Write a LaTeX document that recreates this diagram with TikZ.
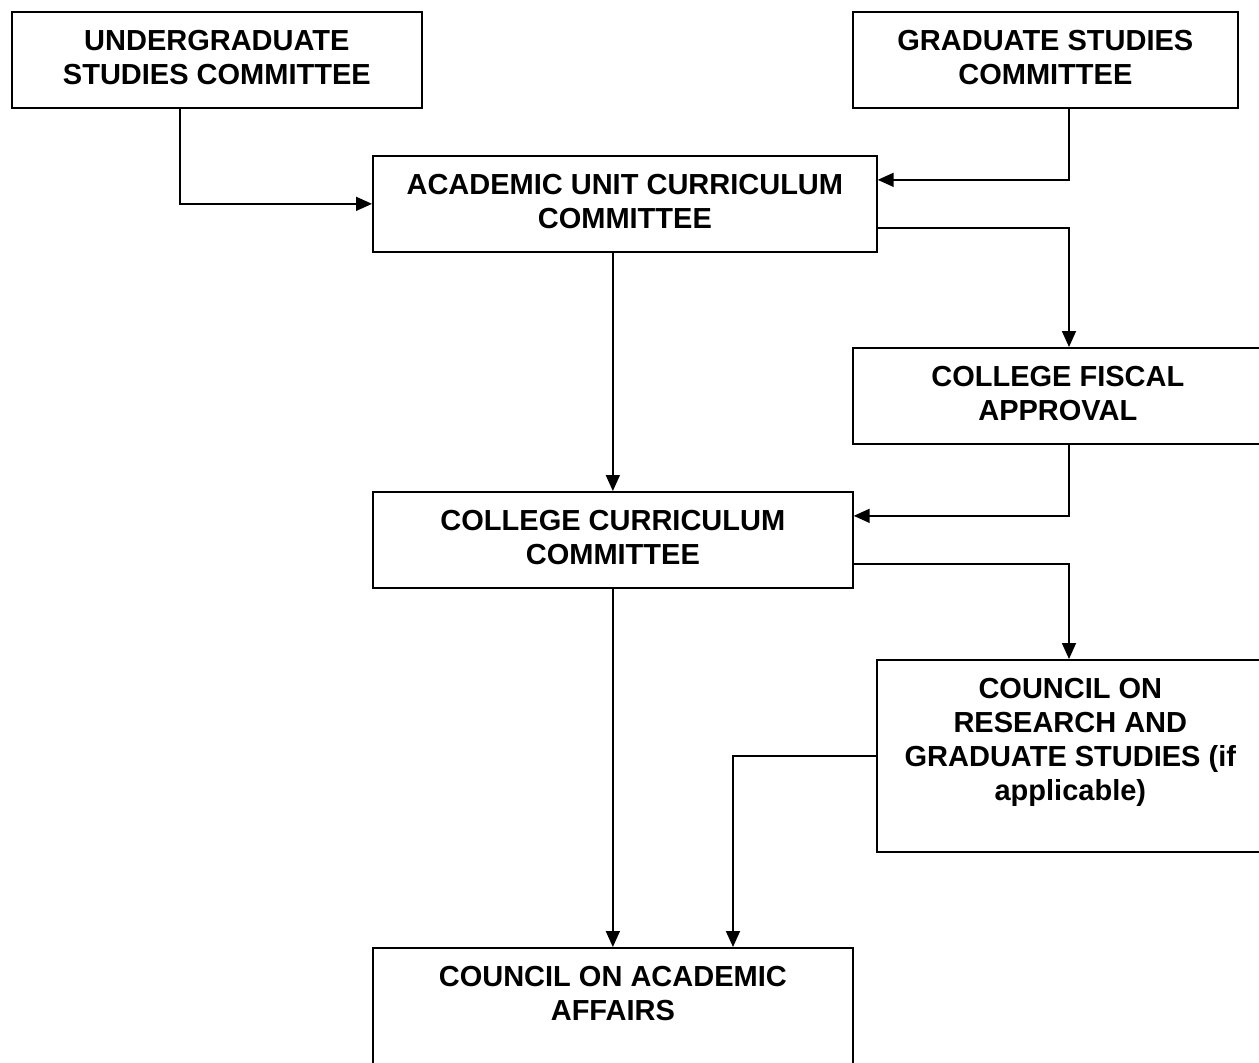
\documentclass[tikz,border=0pt]{standalone}
\usepackage{fontspec}
\setmainfont{Liberation Sans}
\usetikzlibrary{arrows.meta,calc}
\begin{document}
\begin{tikzpicture}[x=1pt,y=-1pt,
  box/.style={draw,line width=1.7pt,rectangle,anchor=north west,inner sep=0pt},
  txt/.style={anchor=north,inner sep=0pt,align=center,font=\fontsize{29}{34}\selectfont\bfseries},
  arr/.style={line width=1.7pt,-{Triangle[length=16pt,width=14pt]}}]
\useasboundingbox (0,0) rectangle (1259,1063);
% boxes
\node[box,minimum width=410pt,minimum height=96pt] (ug) at (11,11) {};
\node[box,minimum width=385pt,minimum height=96pt] (gs) at (852,11) {};
\node[box,minimum width=504pt,minimum height=96pt] (aucc) at (372,155) {};
\node[box,minimum width=410pt,minimum height=96pt] (cfa) at (852,347) {};
\node[box,minimum width=480pt,minimum height=96pt] (ccc) at (372,491) {};
\node[box,minimum width=387pt,minimum height=192pt] (crgs) at (876,659) {};
\node[box,minimum width=480pt,minimum height=140pt] (caa) at (372,947) {};
% texts
\node[txt] (ug-t) at ([yshift=-19.5pt]ug.north) {UNDERGRADUATE\\STUDIES COMMITTEE};
\node[txt] (gs-t) at ([yshift=-19.5pt]gs.north) {GRADUATE STUDIES\\COMMITTEE};
\node[txt] (aucc-t) at ([yshift=-19.5pt]aucc.north) {ACADEMIC UNIT CURRICULUM\\COMMITTEE};
\node[txt] (cfa-t) at ([yshift=-19.5pt]cfa.north) {COLLEGE FISCAL\\APPROVAL};
\node[txt] (ccc-t) at ([yshift=-19.5pt]ccc.north) {COLLEGE CURRICULUM\\COMMITTEE};
\node[txt] (crgs-t) at ([yshift=-19.5pt]crgs.north) {COUNCIL ON\\RESEARCH AND\\GRADUATE STUDIES (if\\applicable)};
\node[txt] (caa-t) at ([yshift=-19.5pt]caa.north) {COUNCIL ON ACADEMIC\\AFFAIRS};
% rails
\coordinate (rail) at (1069,0);
\coordinate (left) at (180,0);
\coordinate (drop) at (733,0);
% connectors
\draw[arr] (ug.south -| left) |- (aucc.west);
\draw[arr] (gs.south -| rail) |- ([yshift=24pt]aucc.east);
\draw[arr] ([yshift=-24pt]aucc.east) -| (cfa.north -| rail);
\draw[arr] (aucc.south -| ccc.north) -- (ccc.north);
\draw[arr] (cfa.south -| rail) |- ([yshift=24pt]ccc.east);
\draw[arr] ([yshift=-24pt]ccc.east) -| (crgs.north -| rail);
\draw[arr] (ccc.south) -- (caa.north -| ccc.south);
\draw[arr] (crgs.west) -| (caa.north -| drop);
\end{tikzpicture}
\end{document}
